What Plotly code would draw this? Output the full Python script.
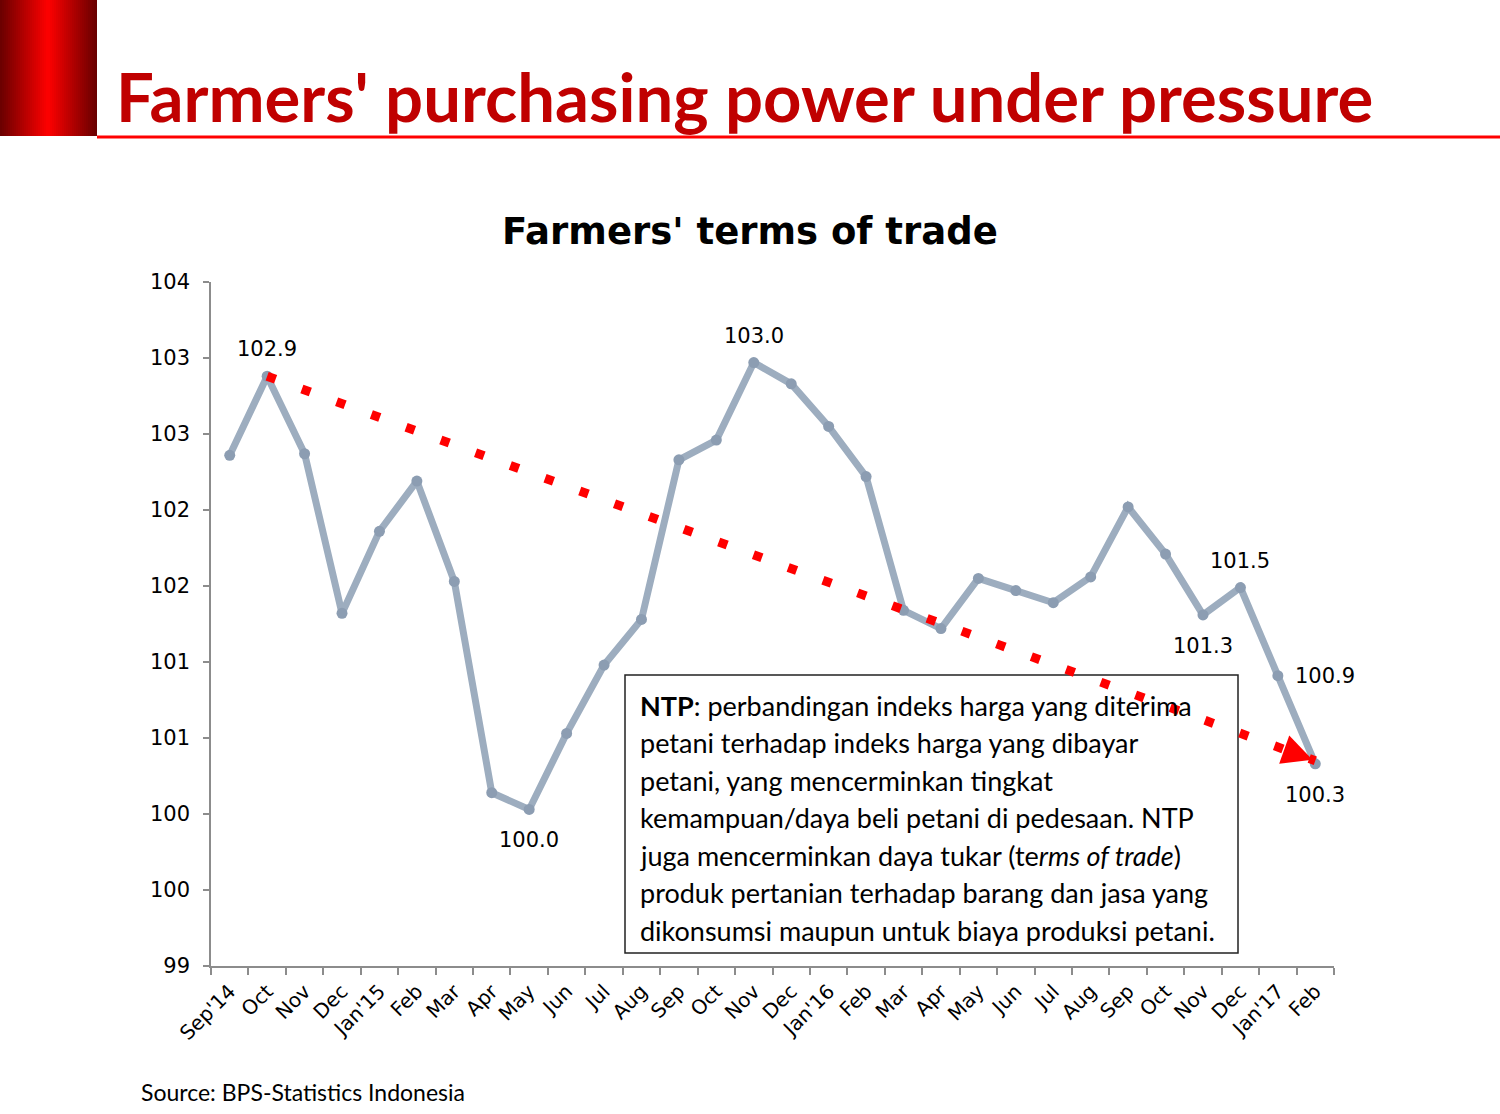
import plotly.graph_objects as go

# ---------------- data ----------------
months = ["2014-09", "2014-10", "2014-11", "2014-12", "2015-01", "2015-02", "2015-03",
          "2015-04", "2015-05", "2015-06", "2015-07", "2015-08", "2015-09", "2015-10",
          "2015-11", "2015-12", "2016-01", "2016-02", "2016-03", "2016-04", "2016-05",
          "2016-06", "2016-07", "2016-08", "2016-09", "2016-10", "2016-11", "2016-12",
          "2017-01", "2017-02"]
tick_labels = ["Sep'14", "Oct", "Nov", "Dec", "Jan'15", "Feb", "Mar", "Apr", "May", "Jun",
               "Jul", "Aug", "Sep", "Oct", "Nov", "Dec", "Jan'16", "Feb", "Mar", "Apr",
               "May", "Jun", "Jul", "Aug", "Sep", "Oct", "Nov", "Dec", "Jan'17", "Feb"]
ntp = [102.36, 102.88, 102.37, 101.32, 101.86, 102.19, 101.53, 100.14, 100.03, 100.53,
       100.98, 101.28, 102.33, 102.46, 102.97, 102.83, 102.55, 102.22, 101.34, 101.22,
       101.55, 101.47, 101.39, 101.56, 102.02, 101.71, 101.31, 101.49, 100.91, 100.33]
y_tick_vals = [99, 99.5, 100, 100.5, 101, 101.5, 102, 102.5, 103, 103.5]
y_tick_text = ["99", "100", "100", "101", "101", "102", "102", "103", "103", "104"]
trend_x = [months[1], months[-1]]
trend_y = [102.88, 100.35]
# index -> label placement
label_pos = {1: "above", 8: "below", 14: "above", 26: "below", 27: "above", 28: "right", 29: "below"}
box_lines = [
    "<b>NTP</b>: perbandingan indeks harga yang diterima",
    "petani terhadap indeks harga yang dibayar",
    "petani, yang mencerminkan tingkat",
    "kemampuan/daya beli petani di pedesaan. NTP",
    "juga mencerminkan daya tukar (te<i>rms of trade</i>)",
    "produk pertanian terhadap barang dan jasa yang",
    "dikonsumsi maupun untuk biaya produksi petani.",
]

# ---------------- layout helpers ----------------
W, H = 1500, 1114
L, R, T, B = 211, 1334, 282, 966


def px_x(p):
    return (p - L) / (R - L)


def px_y(p):
    return (B - p) / (B - T)


fig = go.Figure()

fig.add_trace(go.Scatter(
    x=months, y=ntp, mode="lines+markers",
    line=dict(color="#9DADBF", width=7),
    marker=dict(color="#8C9DB2", size=11),
    hoverinfo="skip", showlegend=False,
))

fig.add_trace(go.Scatter(
    x=trend_x, y=trend_y, mode="lines",
    line=dict(color="#FF0000", width=9, dash="9px,28px"),
    hoverinfo="skip", showlegend=False,
))

annotations = []
lab_font = dict(family="DejaVu Sans, Verdana, sans-serif", size=21, color="black")
for i, pos in label_pos.items():
    a = dict(x=months[i], y=ntp[i], xref="x", yref="y", text=f"{ntp[i]:.1f}",
             showarrow=False, font=lab_font)
    if pos == "above":
        a["yshift"] = 27
    elif pos == "below":
        a["yshift"] = -31
    else:
        a["xshift"] = 47
    annotations.append(a)

# arrow head at end of trend
annotations.append(dict(
    x=trend_x[1], y=trend_y[1], xref="x", yref="y", text="",
    showarrow=True, arrowhead=2, arrowsize=2, arrowwidth=3, arrowcolor="#FF0000",
    ax=-28, ay=-10, standoff=3,
))

# box text
for k, line in enumerate(box_lines):
    annotations.append(dict(
        x=px_x(638), y=px_y(705 + k * 37.5), xref="paper", yref="paper",
        xanchor="left", yanchor="middle", text=line, showarrow=False,
        font=dict(family="Lato, Open Sans, sans-serif", size=27, color="black"),
    ))

# main header title
annotations.append(dict(
    x=px_x(114), y=px_y(96), xref="paper", yref="paper", xanchor="left", yanchor="middle",
    text="<b>Farmers' purchasing power under pressure</b>", showarrow=False,
    font=dict(family="Lato, Open Sans, sans-serif", size=67, color="#C00000"),
))
# chart title
annotations.append(dict(
    x=px_x(750), y=px_y(232), xref="paper", yref="paper", xanchor="center", yanchor="middle",
    text="<b>Farmers' terms of trade</b>", showarrow=False,
    font=dict(family="DejaVu Sans, Verdana, sans-serif", size=37, color="black"),
))
# source
annotations.append(dict(
    x=px_x(139), y=px_y(1092), xref="paper", yref="paper", xanchor="left", yanchor="middle",
    text="Source: BPS-Statistics Indonesia", showarrow=False,
    font=dict(family="Lato, Open Sans, sans-serif", size=23, color="black"),
))

shapes = []
# gradient banner
n = 49
for s in range(n):
    x0 = s * 2
    x1 = x0 + 2
    c = x0 + 1
    t = min(abs(c - 48) / 48, 1)
    r = int(255 * (1 - t) + 105 * t)
    shapes.append(dict(type="rect", xref="paper", yref="paper",
                       x0=px_x(x0), x1=px_x(min(x1, 97)), y0=px_y(0), y1=px_y(136),
                       line=dict(width=0), fillcolor=f"rgb({r},0,0)"))
# header rule
shapes.append(dict(type="line", xref="paper", yref="paper",
                   x0=px_x(97), x1=px_x(1500), y0=px_y(137), y1=px_y(137),
                   line=dict(color="#FF0000", width=3)))
# text box
shapes.append(dict(type="rect", xref="paper", yref="paper", layer="below",
                   x0=px_x(625), x1=px_x(1238), y0=px_y(675), y1=px_y(953),
                   line=dict(color="#222222", width=1.5), fillcolor="white"))

tick_font = dict(family="DejaVu Sans, Verdana, sans-serif", size=20, color="black")
fig.update_layout(
    width=W, height=H,
    margin=dict(l=L, r=W - R, t=T, b=H - B, pad=0),
    paper_bgcolor="white", plot_bgcolor="white",
    showlegend=False,
    annotations=annotations,
    shapes=shapes,
    xaxis=dict(
        type="category", range=[-0.5, len(months) - 0.5],
        tickmode="array", tickvals=months, ticktext=tick_labels,
        tickson="boundaries", ticks="outside", ticklen=7, tickcolor="#8C8C8C", tickwidth=1.5,
        showline=True, linecolor="#8C8C8C", linewidth=1.5,
        showgrid=False, zeroline=False, tickangle=-45, tickfont=tick_font,
        ticklabelstandoff=4,
    ),
    yaxis=dict(
        range=[99, 103.5], tickmode="array", tickvals=y_tick_vals, ticktext=y_tick_text,
        ticks="outside", ticklen=6, tickcolor="#8C8C8C", tickwidth=1.5,
        showline=True, linecolor="#8C8C8C", linewidth=1.5,
        showgrid=False, zeroline=False,
        tickfont=dict(family="DejaVu Sans, Verdana, sans-serif", size=21, color="black"),
        ticklabelstandoff=9,
    ),
)

fig.write_html("out.html", config={"displayModeBar": False},
               post_script="document.body.style.margin='0';document.body.style.overflow='hidden';")
